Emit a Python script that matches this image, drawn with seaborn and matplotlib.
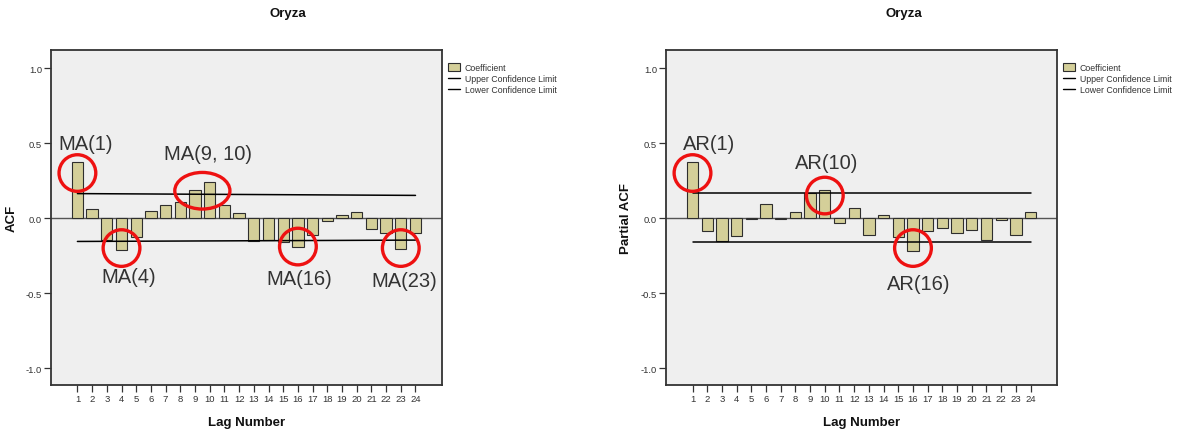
import matplotlib
matplotlib.use("Agg")
import matplotlib.pyplot as plt
import seaborn as sns
import numpy as np
import pandas as pd
from matplotlib.patches import Ellipse, Patch
from matplotlib.lines import Line2D

# ---------------- data ----------------
lags = list(range(1, 25))
acf_values = [0.371, 0.058, -0.144, -0.216, -0.127, 0.044, 0.084, 0.104,
              0.187, 0.238, 0.089, 0.036, -0.151, -0.144, -0.158, -0.191,
              -0.111, -0.018, 0.018, 0.038, -0.071, -0.102, -0.209, -0.102]
pacf_values = [0.371, -0.089, -0.156, -0.120, -0.004, 0.093, -0.009, 0.038,
               0.167, 0.184, -0.033, 0.064, -0.116, 0.022, -0.129, -0.220,
               -0.084, -0.064, -0.100, -0.082, -0.144, -0.016, -0.116, 0.038]
# confidence limits (value at lag 1, value at lag 24)
acf_upper = [0.163, 0.151]
acf_lower = [-0.156, -0.147]
pacf_upper = [0.164, 0.164]
pacf_lower = [-0.159, -0.159]
limit_lags = [1, 24]
y_ticks = [-1.0, -0.5, 0.0, 0.5, 1.0]
y_tick_labels = ["-1.0", "-0.5", "0.0", "0.5", "1.0"]

# annotations: (label, lag, circle centre value, ellipse width in lags, label offset)
acf_notes = [("MA(1)", 1, 0.30, 2.5, (0.58, 0.20)),
             ("MA(9, 10)", 9.5, 0.182, 3.75, (0.4, 0.245)),
             ("MA(4)", 4, -0.20, 2.5, (0.46, -0.187)),
             ("MA(16)", 16, -0.19, 2.5, (0.06, -0.21)),
             ("MA(23)", 23, -0.20, 2.5, (0.24, -0.218))]
pacf_notes = [("AR(1)", 1, 0.30, 2.5, (1.11, 0.198)),
              ("AR(10)", 10, 0.15, 2.5, (0.14, 0.221)),
              ("AR(16)", 16, -0.20, 2.5, (0.39, -0.235))]

# ---------------- style ----------------
sns.set_theme(style="white")
plt.rcParams['font.family'] = ['Liberation Sans', 'DejaVu Sans']

bar_color = "#d4cf99"
bar_edge = "#2e2e2e"
bg = "#efefef"
txt = "#333333"

fig = plt.figure(figsize=(11.99, 4.35), dpi=100)
ax1 = fig.add_axes([0.0425, 0.1126, 0.3261, 0.7701])
ax2 = fig.add_axes([0.5555, 0.1126, 0.3261, 0.7701])


def draw(ax, values, upper, lower, ylabel, notes, title_x):
    ax.set_facecolor(bg)
    df = pd.DataFrame({"lag": lags, "value": values})
    ax.axhline(0, color="#555555", lw=1.0, zorder=1)
    sns.barplot(data=df, x="lag", y="value", native_scale=True, width=0.77,
                color=bar_color, saturation=1, edgecolor=bar_edge,
                linewidth=0.8, ax=ax, zorder=2)
    sns.lineplot(x=limit_lags, y=upper, color="black", lw=1.1, ax=ax, zorder=3)
    sns.lineplot(x=limit_lags, y=lower, color="black", lw=1.1, ax=ax, zorder=3)

    ax.set_xlim(-0.8, 25.8)
    ax.set_ylim(-1.113, 1.12)
    ax.set_xticks(lags)
    ax.set_xticklabels([str(l) for l in lags], fontsize=6.8, color=txt)
    ax.set_yticks(y_ticks)
    ax.set_yticklabels(y_tick_labels, fontsize=6.8, color=txt)
    ax.tick_params(axis="both", direction="out", length=5, width=0.9,
                   color="#333333", pad=1.5, bottom=True, left=True)
    ax.set_xlabel("Lag Number", fontsize=9.5, fontweight="bold", color="#111111", labelpad=9)
    ax.set_ylabel(ylabel, fontsize=9.5, fontweight="bold", color="#111111", labelpad=6)
    for s in ax.spines.values():
        s.set_color("#333333")
        s.set_linewidth(1.3)
        s.set_visible(True)

    for label, lag, yc, w, (dx, dy) in notes:
        e = Ellipse((lag, yc), width=w, height=0.244, fill=False,
                    edgecolor="#ee1111", lw=2.4, zorder=5)
        ax.add_patch(e)
        ax.text(lag + dx, yc + dy, label, ha="center", va="center",
                fontsize=14.5, color=txt, zorder=6)

    handles = [Patch(facecolor=bar_color, edgecolor=bar_edge, linewidth=0.8),
               Line2D([0], [0], color="black", lw=1.0),
               Line2D([0], [0], color="black", lw=1.0)]
    ax.legend(handles, ["Coefficient", "Upper Confidence Limit", "Lower Confidence Limit"],
              loc="upper left", bbox_to_anchor=(1.0, 0.98), frameon=False,
              fontsize=6.3, handlelength=1.4, handleheight=1.0, handletextpad=0.5,
              labelspacing=0.25, borderaxespad=0.3, labelcolor=txt)

    fig.text(title_x, 1 - 14 / 435, "Oryza", ha="center", va="center",
             fontsize=9.5, fontweight="bold", color="#111111")


draw(ax1, acf_values, acf_upper, acf_lower, "ACF", acf_notes, 288 / 1199)
draw(ax2, pacf_values, pacf_upper, pacf_lower, "Partial ACF", pacf_notes, 904 / 1199)

fig.savefig("out.png", dpi=100, facecolor="white")
